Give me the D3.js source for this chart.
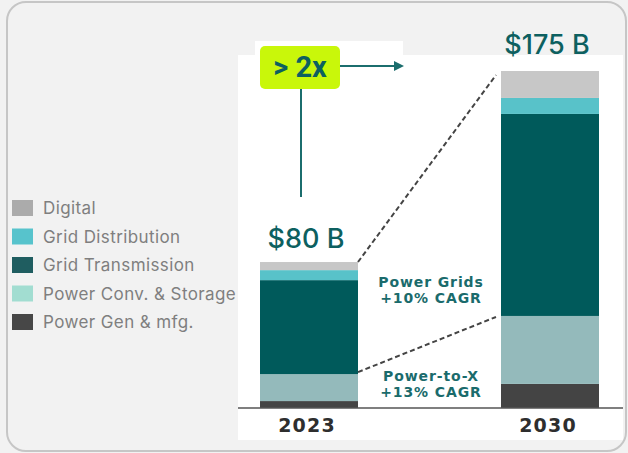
<!DOCTYPE html>
<html>
<head>
<meta charset="utf-8">
<script src="https://cdn.jsdelivr.net/npm/d3@7"></script>
<style>
  html, body { margin: 0; padding: 0; background: #f2f2f2; }
  svg { display: block; }
</style>
</head>
<body>
<script>
// Grid market stacked bars, 2023 vs 2030

const width = 628;
const height = 453;

// data (USD billions, bottom to top)
const years = ["2023", "2030"];
const categories = ["Power Gen & mfg.", "Power Conv. & Storage", "Grid Transmission", "Grid Distribution", "Digital"];
const values2023 = [3.6, 14.0, 48.8, 5.2, 4.2];
const values2030 = [12.5, 35.3, 104.9, 8.3, 14.0];
const totalLabels = ["$80 B", "$175 B"];
const legendOrder = ["Digital", "Grid Distribution", "Grid Transmission", "Power Conv. & Storage", "Power Gen & mfg."];
const cagrNotes = [["Power Grids", "+10% CAGR"], ["Power-to-X", "+13% CAGR"]];

const barColors = ["#444444", "#94babb", "#005a5b", "#58c2c9", "#c7c7c7"];
const legendColors = ["#474747", "#a2ddd1", "#1f5d60", "#57c3cc", "#ababab"];
const teal = "#0d6060";

const svg = d3.select("body").append("svg")
    .attr("width", width)
    .attr("height", height);

// card
svg.append("rect")
    .attr("x", 7).attr("y", 2)
    .attr("width", 619).attr("height", 449)
    .attr("rx", 19)
    .attr("fill", "#f2f2f2")
    .attr("stroke", "#c6c6c6")
    .attr("stroke-width", 2);

// white panel behind chart
svg.append("rect").attr("x", 238).attr("y", 55).attr("width", 385).attr("height", 385).attr("fill", "#ffffff");
svg.append("rect").attr("x", 255).attr("y", 41).attr("width", 148).attr("height", 15).attr("fill", "#ffffff");

const x = d3.scalePoint().domain(years).range([309, 550]);
const barW = 98;
const y = d3.scaleLinear().domain([0, 175]).range([408, 71]);

const rows = years.map((yr, i) => {
  const vals = i === 0 ? values2023 : values2030;
  const row = { year: yr };
  categories.forEach((c, j) => row[c] = vals[j]);
  return row;
});

const stack = d3.stack().keys(categories)(rows);

const layers = svg.append("g").selectAll("g")
    .data(stack)
    .join("g")
    .attr("fill", (d, i) => barColors[i]);

layers.selectAll("rect")
    .data(d => d)
    .join("rect")
    .attr("x", d => x(d.data.year) - barW / 2)
    .attr("y", d => y(d[1]))
    .attr("width", barW)
    .attr("height", d => y(d[0]) - y(d[1]));

// baseline
svg.append("line")
    .attr("x1", 238).attr("x2", 623)
    .attr("y1", y(0)).attr("y2", y(0))
    .attr("stroke", "#555").attr("stroke-width", 1.5);

// year labels
svg.append("g").selectAll("text")
    .data(years)
    .join("text")
    .attr("x", d => x(d) - 2)
    .attr("y", 432)
    .attr("text-anchor", "middle")
    .attr("font-family", "DejaVu Sans")
    .attr("font-weight", "bold")
    .attr("font-size", 19)
    .attr("letter-spacing", 1.2)
    .attr("fill", "#2e2e2e")
    .text(d => d);

// totals
svg.append("g").selectAll("text")
    .data(years)
    .join("text")
    .attr("x", (d, i) => x(d) - 3)
    .attr("y", (d, i) => i === 0 ? 248 : 54)
    .attr("text-anchor", "middle")
    .attr("font-family", "Inter")
    .attr("font-weight", 500)
    .attr("font-size", 27)
    .attr("fill", teal)
    .text((d, i) => totalLabels[i]);

// dashed connectors
const gt = stack[2];
const left = x(years[0]) + barW / 2;
const right = x(years[1]) - barW / 2 - 5;
const top0 = d3.sum(values2023), top1 = d3.sum(values2030);
svg.append("line")
    .attr("x1", left).attr("y1", y(top0))
    .attr("x2", right).attr("y2", y(top1) + 4)
    .attr("stroke", "#444").attr("stroke-width", 2).attr("stroke-dasharray", "5,3");
svg.append("line")
    .attr("x1", left).attr("y1", y(gt[0][0]) - 2)
    .attr("x2", right).attr("y2", y(gt[1][0]) + 1)
    .attr("stroke", "#444").attr("stroke-width", 2).attr("stroke-dasharray", "5,3");

// CAGR notes
const noteY = [287, 381];
cagrNotes.forEach((lines, i) => {
  const t = svg.append("text")
      .attr("x", 430)
      .attr("y", noteY[i])
      .attr("text-anchor", "middle")
      .attr("font-family", "DejaVu Sans")
      .attr("font-weight", "bold")
      .attr("font-size", 14)
      .attr("letter-spacing", 0.9)
      .attr("fill", "#1a6b6c");
  lines.forEach((l, k) => {
    t.append("tspan").attr("x", 431).attr("dy", k === 0 ? 0 : 16).text(l);
  });
});

// > 2x callout
svg.append("line")
    .attr("x1", 301).attr("x2", 301)
    .attr("y1", 88).attr("y2", 197)
    .attr("stroke", "#1b6d6d").attr("stroke-width", 2);
svg.append("line")
    .attr("x1", 340).attr("x2", 396)
    .attr("y1", 66).attr("y2", 66)
    .attr("stroke", "#1b6d6d").attr("stroke-width", 2);
svg.append("path")
    .attr("d", "M394,61 L404,66 L394,71 Z")
    .attr("fill", "#1b6d6d");
svg.append("rect")
    .attr("x", 260).attr("y", 46)
    .attr("width", 80).attr("height", 43)
    .attr("rx", 5)
    .attr("fill", "#c9f70a");
svg.append("text")
    .attr("x", 300).attr("y", 77)
    .attr("text-anchor", "middle")
    .attr("font-family", "Roboto")
    .attr("font-weight", "bold")
    .attr("font-size", 29)
    .attr("fill", teal)
    .text("> 2x");

// legend
const legendY = d3.scalePoint().domain(legendOrder).range([208, 322]);
const leg = svg.append("g").selectAll("g")
    .data(legendOrder)
    .join("g")
    .attr("transform", d => `translate(12, ${legendY(d)})`);
leg.append("rect")
    .attr("x", 0).attr("y", -8)
    .attr("width", 21).attr("height", 16)
    .attr("fill", d => legendColors[categories.indexOf(d)]);
leg.append("text")
    .attr("x", 31).attr("y", 6)
    .attr("font-family", "Inter")
    .attr("font-size", 17)
    .attr("letter-spacing", 0.4)
    .attr("fill", "#7f7f7f")
    .text(d => d);
</script>
</body>
</html>
